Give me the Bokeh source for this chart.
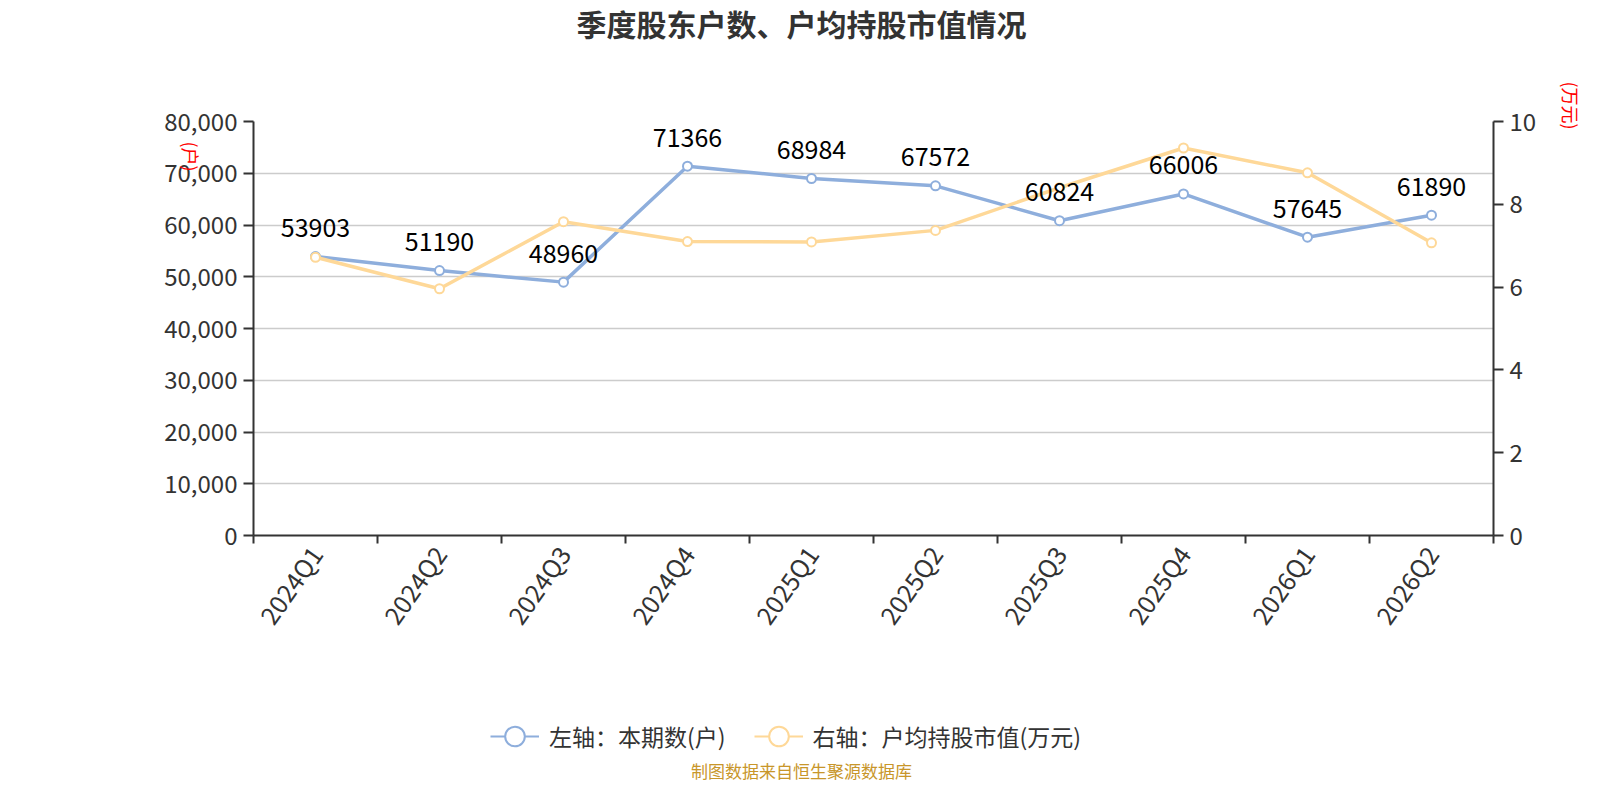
import math
from bokeh.plotting import figure
from bokeh.layouts import column
from bokeh.models import (ColumnDataSource, Range1d, LinearAxis, FixedTicker,
                          NumeralTickFormatter, Label, Legend, LegendItem, LabelSet)
from bokeh.core.properties import value
from bokeh.embed import file_html
from bokeh.resources import INLINE

# ---- data ----
quarters = ["2024Q1", "2024Q2", "2024Q3", "2024Q4", "2025Q1",
            "2025Q2", "2025Q3", "2025Q4", "2026Q1", "2026Q2"]
holders = [53903, 51190, 48960, 71366, 68984, 67572, 60824, 66006, 57645, 61890]
avg_value = [6.72, 5.96, 7.58, 7.10, 7.09, 7.37, 8.40, 9.36, 8.76, 7.07]
left_ticks = [0, 10000, 20000, 30000, 40000, 50000, 60000, 70000, 80000]
right_ticks = [0, 2, 4, 6, 8, 10]

title_text = "季度股东户数、户均持股市值情况"
legend_left = "左轴：本期数(户)"
legend_right = "右轴：户均持股市值(万元)"
footer_text = "制图数据来自恒生聚源数据库"
left_unit = "(户)"
right_unit = "(万元)"

FONT = "Noto Sans CJK SC"
BLUE = "#8eaedc"
YELLOW = "#fed898"
AXIS = "#333333"
W = 1584
H_MAIN, H_BOT = 655, 129
BL, BR = 253, 91          # left / right borders shared by both figures

# ---------- main chart ----------
xs = [i + 0.5 for i in range(len(quarters))]
src = ColumnDataSource(dict(x=xs, q=quarters, h=holders, v=avg_value,
                            lab=[str(h) for h in holders]))

p = figure(width=W, height=H_MAIN, output_backend="svg", toolbar_location=None,
           x_range=Range1d(0, len(quarters)), y_range=Range1d(0, 80000),
           min_border_left=BL, min_border_right=BR, min_border_top=121,
           min_border_bottom=120, outline_line_color=None)
p.extra_y_ranges = {"r": Range1d(0, 10)}

xa = p.xaxis[0]
xa.ticker = FixedTicker(ticks=xs, minor_ticks=list(range(len(quarters) + 1)))
xa.major_label_overrides = {x: q for x, q in zip(xs, quarters)}
xa.major_label_orientation = math.radians(55)
xa.major_tick_out = 0
xa.major_tick_in = 0
xa.minor_tick_out = 8
xa.minor_tick_in = 0
xa.minor_tick_line_color = AXIS
xa.minor_tick_line_width = 2
xa.axis_line_color = AXIS
xa.axis_line_width = 2
xa.major_label_text_font = FONT
xa.major_label_text_font_size = "25px"
xa.major_label_text_color = AXIS
xa.major_label_standoff = 5

ya = p.yaxis[0]
ya.ticker = FixedTicker(ticks=left_ticks)
ya.formatter = NumeralTickFormatter(format="0,0")
ya.axis_line_color = AXIS
ya.axis_line_width = 2
ya.major_tick_line_color = AXIS
ya.major_tick_line_width = 2
ya.major_tick_out = 10
ya.major_tick_in = 0
ya.minor_tick_line_color = None
ya.major_label_text_font = FONT
ya.major_label_text_font_size = "24px"
ya.major_label_text_color = AXIS
ya.major_label_standoff = 6

ra = LinearAxis(y_range_name="r", ticker=FixedTicker(ticks=right_ticks))
ra.axis_line_color = AXIS
ra.axis_line_width = 2
ra.major_tick_line_color = AXIS
ra.major_tick_line_width = 2
ra.major_tick_out = 10
ra.major_tick_in = 0
ra.minor_tick_line_color = None
ra.major_label_text_font = FONT
ra.major_label_text_font_size = "24px"
ra.major_label_text_color = AXIS
ra.major_label_standoff = 6
p.add_layout(ra, "right")

p.xgrid.grid_line_color = None
p.ygrid.ticker = FixedTicker(ticks=left_ticks)
p.ygrid.grid_line_color = "#cccccc"
p.ygrid.grid_line_width = 1.5

p.line("x", "h", source=src, line_color=BLUE, line_width=3.5)
p.scatter("x", "h", source=src, size=9, fill_color="white", line_color=BLUE, line_width=2)
p.line("x", "v", source=src, y_range_name="r", line_color=YELLOW, line_width=3.5)
p.scatter("x", "v", source=src, y_range_name="r", size=9, fill_color="white",
          line_color=YELLOW, line_width=2)

p.add_layout(LabelSet(x="x", y="h", text="lab", source=src, x_offset=0, y_offset=29,
                      text_align="center", text_baseline="middle",
                      text_font=value(FONT), text_font_size="25px", text_color="#000000"))

# texts in the margins: side-panel labels, positioned in canvas pixels
p.add_layout(Label(x=801, y=22, x_units="canvas", y_units="canvas", text=title_text,
                   text_font=FONT, text_font_size="30px", text_font_style="bold",
                   text_color="#333333", text_align="center", text_baseline="middle"),
             "above")
p.add_layout(Label(x=190, y=156, x_units="canvas", y_units="canvas", text=left_unit,
                   text_font=FONT, text_font_size="18px", text_color="#ff0000",
                   text_align="center", text_baseline="middle", angle=-math.pi / 2),
             "left")
p.add_layout(Label(x=1570, y=105, x_units="canvas", y_units="canvas", text=right_unit,
                   text_font=FONT, text_font_size="18px", text_color="#ff0000",
                   text_align="center", text_baseline="middle", angle=-math.pi / 2),
             "right")

# ---------- bottom: legend + footer ----------
bot = figure(width=W, height=H_BOT, output_backend="svg", toolbar_location=None,
             x_range=Range1d(0, 1), y_range=Range1d(0, 1),
             min_border_left=BL, min_border_right=BR, min_border_top=0, min_border_bottom=0,
             x_axis_location=None, y_axis_location=None, outline_line_color=None)
bot.grid.visible = False
proxy = ColumnDataSource(dict(x=[float("nan")], y=[float("nan")]))
bl1 = bot.line("x", "y", source=proxy, line_color=BLUE, line_width=2)
bs1 = bot.scatter("x", "y", source=proxy, size=20, fill_color="white",
                  line_color=BLUE, line_width=2)
bl2 = bot.line("x", "y", source=proxy, line_color=YELLOW, line_width=2)
bs2 = bot.scatter("x", "y", source=proxy, size=20, fill_color="white",
                  line_color=YELLOW, line_width=2)
legend = Legend(items=[LegendItem(label=legend_left, renderers=[bl1, bs1]),
                       LegendItem(label=legend_right, renderers=[bl2, bs2])],
                orientation="horizontal", location=(490 - BL, 23), margin=0, padding=0,
                label_text_font=FONT, label_text_font_size="23px",
                label_text_color=AXIS, glyph_width=49, glyph_height=50,
                label_height=50, spacing=28, label_standoff=10,
                background_fill_alpha=0, border_line_color=None)
bot.add_layout(legend, "center")
bot.add_layout(Label(x=801 - BL, y=14, x_units="screen", y_units="screen", text=footer_text,
                     text_font=FONT, text_font_size="17px", text_color="#c8962a",
                     text_align="center", text_baseline="middle"))

layout = column(p, bot, spacing=0)
open("out.html", "w").write(file_html(layout, INLINE))
